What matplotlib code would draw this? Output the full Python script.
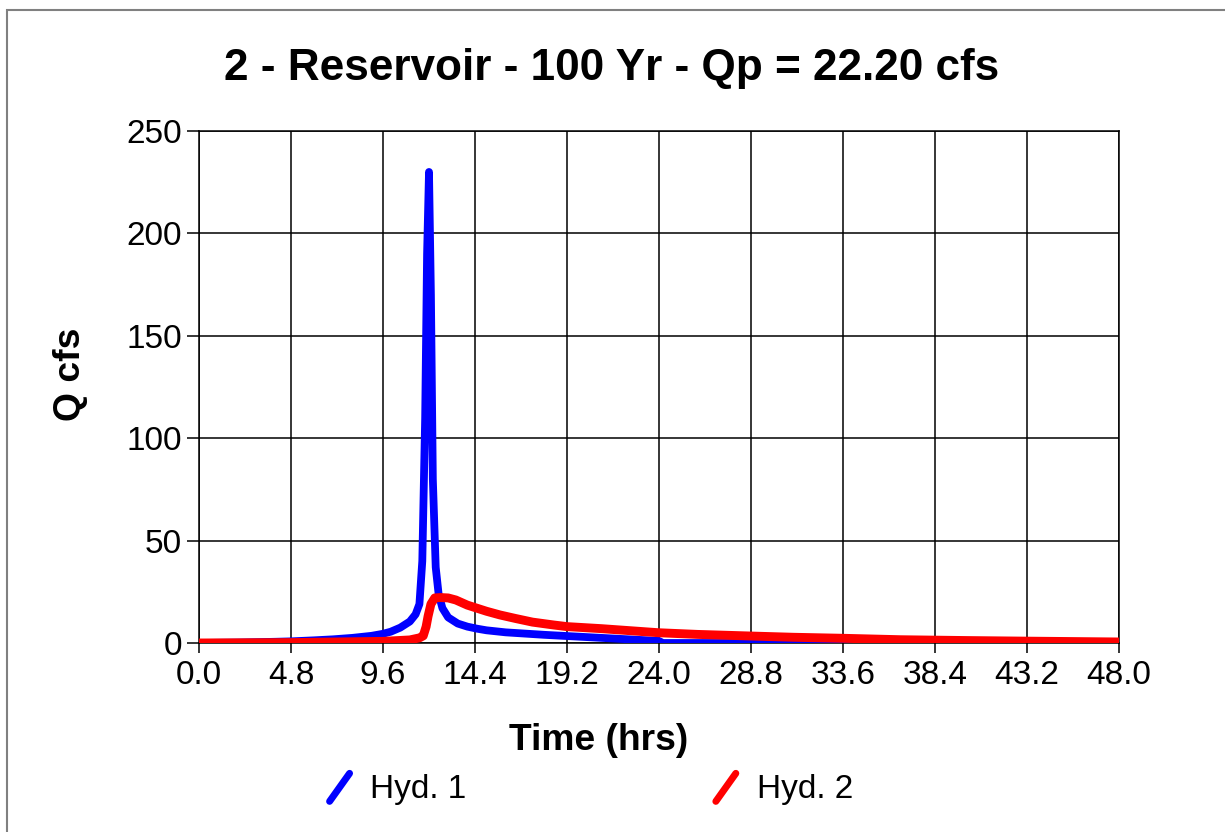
import matplotlib
matplotlib.use("Agg")
import matplotlib.pyplot as plt
from matplotlib.lines import Line2D
from matplotlib.patches import Rectangle
from matplotlib.legend_handler import HandlerBase

plt.rcParams['font.family'] = ['Liberation Sans', 'DejaVu Sans']

# Hyd. 1 - inflow hydrograph (blue)
t1 = [0, 2, 4, 4.8, 6, 7, 8, 9, 9.6, 10, 10.5, 11, 11.3, 11.5, 11.65, 11.8, 11.9,
      12.0, 12.1, 12.2, 12.35, 12.5, 12.7, 13.0, 13.5, 14.0, 14.5, 15, 16, 17, 18,
      19.2, 20, 22, 24, 24.2, 25, 30, 48]
q1 = [0, 0.2, 0.6, 0.8, 1.3, 1.8, 2.5, 3.5, 4.5, 5.5, 7.5, 10.5, 14, 19, 40, 110, 190,
      230, 170, 80, 37, 24, 17, 12.5, 9.5, 8, 7, 6.2, 5.2, 4.6, 4.0,
      3.4, 3.0, 2.0, 1.0, 0, 0, 0, 0]

# Hyd. 2 - reservoir outflow (red)
t2 = [0, 4.8, 9.6, 11.0, 11.5, 11.7, 11.85, 11.95, 12.1, 12.3, 12.6, 13.0, 13.4, 14.0,
      14.5, 15.0, 15.7, 16.5, 17.4, 18.5, 19.2, 21, 24, 26, 28.8, 31, 33.6, 36.6,
      40, 43.2, 48]
q2 = [0, 0.2, 0.8, 1.5, 2.5, 3.5, 8, 13, 19, 22, 22.2, 22, 21, 18.5,
      17, 15.5, 13.7, 12, 10.2, 8.8, 8.0, 7, 5.0, 4.2, 3.4, 2.8, 2.3, 1.6,
      1.2, 0.9, 0.5]

xticks = [0.0, 4.8, 9.6, 14.4, 19.2, 24.0, 28.8, 33.6, 38.4, 43.2, 48.0]
yticks = [0, 50, 100, 150, 200, 250]


class SlashHandler(HandlerBase):
    def create_artists(self, legend, orig_handle, xdescent, ydescent, width, height,
                       fontsize, trans):
        x0 = -xdescent
        y0 = -ydescent
        ln = Line2D([x0 + 0.1 * width, x0 + 0.9 * width],
                    [y0 - 0.1 * height, y0 + 1.0 * height],
                    color=orig_handle.get_color(), lw=5.0,
                    solid_capstyle='round', transform=trans)
        return [ln]


fig = plt.figure(figsize=(12.25, 8.32), dpi=100)
ax = fig.add_axes([199 / 1225, 1 - 643 / 832, 920 / 1225, 512 / 832])

l1, = ax.plot(t1, q1, color='#0000ff', lw=5.6, solid_capstyle='round',
              solid_joinstyle='round', zorder=3, label='Hyd. 1')
l2, = ax.plot(t2, q2, color='#ff0000', lw=6.4, solid_capstyle='round',
              solid_joinstyle='round', zorder=4, label='Hyd. 2')

ax.set_xlim(0, 48)
ax.set_ylim(0, 250)
ax.set_xticks(xticks)
ax.set_xticklabels([f'{v:.1f}' for v in xticks])
ax.set_yticks(yticks)
ax.grid(True, color='black', lw=1.1)
ax.set_axisbelow(True)
for s in ax.spines.values():
    s.set_color('black')
    s.set_linewidth(1.1)
ax.tick_params(axis='y', direction='out', length=8.6, width=1.1, pad=3.5, labelsize=24)
ax.tick_params(axis='x', direction='out', length=7.2, width=1.1, pad=5, labelsize=24)

fig.text(0.499, 1 - 80 / 832, '2 - Reservoir - 100 Yr - Qp = 22.20 cfs',
         ha='center', va='baseline', fontsize=31.8, fontweight='bold')
fig.text(599 / 1225, 1 - 750 / 832, 'Time (hrs)', ha='center', va='baseline',
         fontsize=26.8, fontweight='bold')
fig.text(71 / 1225, 1 - 374 / 832, 'Q cfs', ha='center', va='center', rotation=90,
         fontsize=26.8, fontweight='bold')

fig.legend(handles=[l1, l2], loc='center', bbox_to_anchor=(590 / 1225, 1 - 789 / 832),
           ncol=2, frameon=False, fontsize=24, handlelength=0.75, handleheight=0.8,
           handletextpad=0.55, columnspacing=7.4,
           handler_map={Line2D: SlashHandler()})

fig.add_artist(Rectangle((7 / 1225, -0.1), 1.2, 1.1 - 10 / 832, transform=fig.transFigure,
                         fill=False, edgecolor='#808080', lw=1.5))

fig.savefig('out.png', dpi=100)
